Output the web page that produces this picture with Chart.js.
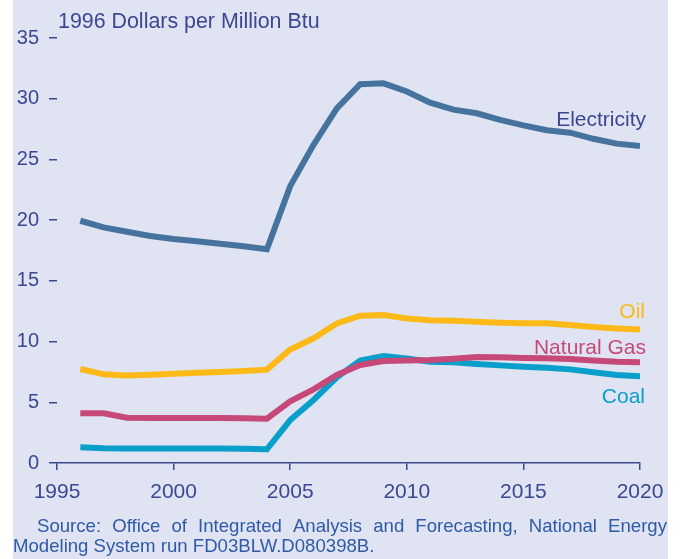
<!DOCTYPE html>
<html>
<head>
<meta charset="utf-8">
<script src="https://cdn.jsdelivr.net/npm/chart.js@4.4.1/dist/chart.umd.min.js"></script>
<style>
  html, body { margin: 0; padding: 0; background: #ffffff; }
  #bg { position: absolute; left: 13px; top: 0; width: 655px; height: 559px; background: #e0e3f2; }
  #c { position: absolute; left: 0; top: 0; }
</style>
</head>
<body>
<div id="bg"></div>
<canvas id="c" width="683" height="559"></canvas>
<script>
const years = [1996,1997,1998,1999,2000,2001,2002,2003,2004,2005,2006,2007,2008,2009,2010,2011,2012,2013,2014,2015,2016,2017,2018,2019,2020];
const electricity = [19.95,19.4,19.05,18.7,18.45,18.26,18.06,17.85,17.6,22.8,26.2,29.2,31.2,31.27,30.6,29.67,29.1,28.8,28.25,27.8,27.4,27.2,26.7,26.3,26.1];
const oil = [7.74,7.3,7.2,7.27,7.35,7.44,7.5,7.58,7.69,9.35,10.27,11.5,12.13,12.19,11.9,11.75,11.72,11.64,11.55,11.5,11.5,11.36,11.2,11.08,11.0];
const naturalGas = [4.09,4.09,3.73,3.7,3.7,3.7,3.7,3.68,3.65,5.08,6.07,7.25,8.07,8.4,8.45,8.48,8.59,8.72,8.7,8.65,8.62,8.56,8.45,8.34,8.29];
const coal = [1.29,1.22,1.2,1.2,1.2,1.2,1.19,1.18,1.13,3.54,5.19,7.06,8.43,8.81,8.6,8.34,8.29,8.15,8.04,7.93,7.85,7.71,7.47,7.25,7.14];
const xTicks = [1995,2000,2005,2010,2015,2020];
const yTicks = [0,5,10,15,20,25,30,35];

const seriesNames = ['Natural Gas','Coal','Oil','Electricity'];
const seriesData = [naturalGas, coal, oil, electricity];
const seriesColors = ['#c6497a','#0a9fcb','#fcb918','#45739d'];

const axisColor = '#3b4890';
const FONT = '"Liberation Sans", Arial, sans-serif';

function pts(arr){ return years.map((y,i)=>({x:y, y:arr[i]})); }

const labelPlugin = {
  id: 'labels',
  afterDraw(chart){
    const ctx = chart.ctx;
    ctx.save();
    ctx.fillStyle = axisColor;
    ctx.font = '21.4px ' + FONT;
    ctx.textAlign = 'left';
    ctx.textBaseline = 'alphabetic';
    ctx.fillText('1996 Dollars per Million Btu', 58, 28);
    const lab = [
      ['Electricity', '#3b4890', 646, 126],
      ['Oil', '#fcb918', 645, 318],
      ['Natural Gas', '#c6497a', 646, 354],
      ['Coal', '#0a9fcb', 645, 403]
    ];
    ctx.font = '21px ' + FONT;
    ctx.textAlign = 'right';
    for (const [t,c,x,y] of lab){ ctx.fillStyle = c; ctx.fillText(t, x, y); }
    ctx.font = '18.6px ' + FONT;
    ctx.fillStyle = '#2f5aa6';
    ctx.textAlign = 'left';
    const line1 = 'Source: Office of Integrated Analysis and Forecasting, National Energy'.split(' ');
    const x0 = 37, x1 = 667;
    let wsum = 0;
    for (const w of line1) wsum += ctx.measureText(w).width;
    const gap = (x1 - x0 - wsum) / (line1.length - 1);
    let x = x0;
    for (const w of line1){ ctx.fillText(w, x, 532); x += ctx.measureText(w).width + gap; }
    ctx.fillText('Modeling System run FD03BLW.D080398B.', 13, 552);
    ctx.restore();
  }
};

new Chart(document.getElementById('c'), {
  type: 'line',
  data: {
    datasets: seriesNames.map((n,i)=>({
      label: n,
      data: pts(seriesData[i]),
      borderColor: seriesColors[i],
      backgroundColor: seriesColors[i],
      borderWidth: 6,
      pointRadius: 0,
      tension: 0,
      fill: false
    }))
  },
  options: {
    responsive: false,
    animation: false,
    layout: { padding: { left: 0, top: 38, right: 43, bottom: 0 } },
    plugins: { legend: { display: false }, tooltip: { enabled: false } },
    scales: {
      x: {
        type: 'linear', min: 1995, max: 2020,
        afterBuildTicks(s){ s.ticks = xTicks.map(v=>({value:v})); },
        afterFit(s){ s.height = 96; },
        ticks: { color: axisColor, font: { size: 21, family: FONT }, padding: 10, maxRotation: 0, autoSkip: false, callback: v => String(v) },
        grid: { drawOnChartArea: false, drawTicks: true, tickLength: 7, color: axisColor, lineWidth: 1.5 },
        border: { display: true, color: axisColor, width: 1.5 }
      },
      y: {
        min: 0, max: 35,
        afterBuildTicks(s){ s.ticks = yTicks.map(v=>({value:v})); },
        afterFit(s){ s.width = 57; },
        ticks: { color: axisColor, font: { size: 20, family: FONT }, padding: 10 },
        grid: { drawOnChartArea: false, drawTicks: true, tickLength: 8, color: axisColor, lineWidth: 1.5 },
        border: { display: false }
      }
    }
  },
  plugins: [labelPlugin]
});
</script>
</body>
</html>
